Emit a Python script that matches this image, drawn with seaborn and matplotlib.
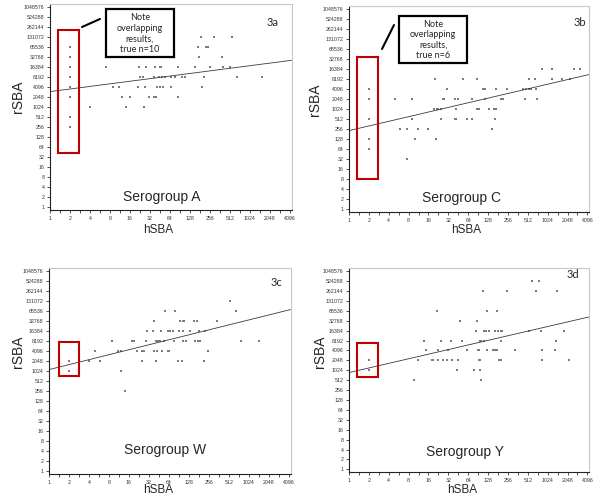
import numpy as np
import pandas as pd
import seaborn as sns
import matplotlib.pyplot as plt
from matplotlib.ticker import FixedLocator, FuncFormatter, NullFormatter
from matplotlib.patches import Rectangle
from matplotlib.lines import Line2D

# --- data (hSBA vs rSBA titres) ---
hsba_a = [2, 2, 2, 2, 2, 2, 2, 2, 4, 7, 9, 11, 12, 14, 16, 21, 22, 22.6, 24.8, 26.3,
          26.9, 27.9, 31, 37, 39, 38, 37, 41.5, 43.7, 45, 47, 46, 50, 48.5, 53.8,
          67, 65.5, 76, 83.6, 85.4, 84, 96, 108, 152, 167, 177, 187, 192, 208,
          220, 242, 256, 297, 392, 406, 506, 555, 645, 1534]
rsba_a = [65536, 32768, 16384, 8192, 4096, 2048, 512, 256, 1024, 16384, 4096, 4096,
          2048, 1024, 2048, 4096, 16384, 8192, 8192, 1024,
          4096, 16384, 2048, 2048, 2048, 16384, 8192, 4096, 8192, 16384, 16384, 4096, 4096, 8192, 8192,
          4096, 8192, 8192, 2048, 2048, 16384, 8192, 8192, 16384, 65536, 32768, 131072, 4096, 8192,
          65536, 65536, 16384, 131072, 32768, 16384, 16384, 131072, 8192, 8192]

hsba_c = [2, 2, 2, 2, 2, 5, 6, 7.5, 7.5, 9, 9, 10, 11, 16, 20, 20.5, 19.5, 21.4, 22.6,
          24.5, 24.5, 26.9, 27.9, 30.2, 40.3, 44.7, 41.5, 40.3, 42.2, 53.8, 60.4, 71.8,
          71.8, 87, 87, 93, 107.6, 114, 114, 134, 147, 156, 167, 161, 169, 201, 215, 249,
          431, 478, 466, 536, 574, 536, 660, 683, 699, 832, 1176, 1176, 1702, 2220, 2580, 3213]
rsba_c = [4096, 2048, 512, 128, 64, 2048, 256, 256, 32, 2048, 512, 128, 256, 256, 8192, 128,
          1024, 1024, 1024, 1024, 512, 2048, 2048, 4096, 2048, 2048, 1024, 512, 512, 8192, 512,
          2048, 512, 8192, 1024, 1024, 4096, 4096, 2048, 1024, 256, 1024, 1024, 512, 4096, 2048,
          2048, 4096, 4096, 4096, 2048, 4096, 4096, 8192, 8192, 4096, 2048, 16384, 16384, 8192,
          8192, 8192, 16384, 16384]

hsba_w = [2, 2, 4, 4.9, 5.9, 8.9, 10.9, 12.1, 12.1, 13.8, 17.7, 19, 21.4, 25.4, 25.4, 27.2,
          28.8, 29.9, 36.8, 38.5, 38.5, 42.2, 40.7, 43.1, 46.2, 41.3, 49, 50, 53.2, 55, 61,
          64.7, 61, 67, 73.5, 76, 79.7, 86.5, 89.5, 94.7, 102.8, 108.8, 100.4, 104, 104, 116.7,
          131, 153.6, 167, 159.5, 173, 189, 179, 217.6, 225.7, 244, 338, 536, 660, 776, 1432]
rsba_w = [2048, 1024, 2048, 4096, 2048, 8192, 4096, 4096, 1024, 256, 8192, 8192, 4096, 2048,
          4096, 4096, 8192, 16384, 16384, 32768, 4096, 4096, 8192, 8192, 8192, 2048, 16384,
          4096, 8192, 65536, 4096, 4096, 16384, 16384, 16384, 8192, 65536, 2048, 16384, 32768,
          32768, 32768, 2048, 8192, 16384, 8192, 16384, 32768, 32768, 8192, 8192, 8192, 16384,
          2048, 16384, 4096, 32768, 131072, 65536, 8192, 8192]

hsba_y = [2, 2, 9.7, 11, 13.8, 14.8, 18, 18.8, 21.4, 22.6, 22.6, 24.5, 26.9, 30.9, 31.6, 34.7,
          35.9, 42.7, 44.7, 47.9, 50.8, 60.4, 77.9, 84.4, 87.1, 89.5, 94.7, 93, 98, 98, 101.6,
          98, 101.6, 106, 112.7, 120.8, 134, 112.7, 125.4, 123.6, 152, 161, 177, 161, 181, 173,
          187, 199, 199, 208, 203, 252, 322.5, 536, 601.6, 683.5, 757.8, 812.7, 832, 832, 1320,
          1367, 1432, 1802, 2169]
rsba_y = [2048, 1024, 512, 2048, 8192, 4096, 2048, 2048, 65536, 2048, 4096, 8192, 2048, 2048,
          4096, 8192, 2048, 1024, 2048, 32768, 8192, 4096, 1024, 16384, 32768, 4096, 4096, 2048,
          2048, 8192, 8192, 1024, 512, 262144, 16384, 16384, 16384, 8192, 65536, 4096, 4096,
          4096, 4096, 16384, 16384, 65536, 2048, 2048, 16384, 16384, 8192, 262144, 4096, 16384,
          524288, 262144, 524288, 16384, 4096, 2048, 4096, 8192, 262144, 16384, 2048]

# fitted lines: log2(rSBA) = intercept + slope * log2(hSBA)
fit_intercept = {"A": 11.57, "C": 7.87, "W": 10.17, "Y": 9.77}
fit_slope = {"A": 0.259, "C": 0.464, "W": 0.497, "Y": 0.465}

groups = ["A", "C", "W", "Y"]
tags = ["3a", "3b", "3c", "3d"]
data = {"A": (hsba_a, rsba_a), "C": (hsba_c, rsba_c), "W": (hsba_w, rsba_w), "Y": (hsba_y, rsba_y)}
notes = {"A": "Note\noverlapping\nresults,\ntrue n=10", "C": "Note\noverlapping\nresults,\ntrue n=6"}

# --- layout (pixels on the 600x503 canvas) ---
W, H = 600, 503
axes_px = {"A": (50, 4, 291.5, 210), "C": (349, 6, 589, 212),
           "W": (49, 268, 290.5, 474), "Y": (349, 268, 589, 472)}
# red boxes in log2 units (x0, x1, y0, y1)
red_box = {"A": (0.42, 1.45, 5.47, 17.7), "C": (0.40, 1.47, 3.0, 15.2),
           "W": (0.48, 1.52, 9.5, 12.9), "Y": (0.40, 1.47, 9.33, 12.77)}
tag_px = {"A": (273, 23), "C": (580, 23), "W": (276, 282), "Y": (573, 275)}
title_px = {"A": (162, 197), "C": (461, 198), "W": (165, 450), "Y": (465, 452)}
ylab_px = {"A": (18, 97), "C": (315, 100), "W": (18, 352), "Y": (320, 352)}
xlab_px = {"A": (158, 230), "C": (466, 230), "W": (158, 490), "Y": (462, 490)}
note_box_px = {"A": (106, 9, 174, 57), "C": (399, 16, 467, 63)}
note_line_px = {"A": ((82, 27), (100, 19)), "C": ((382, 49), (394, 25))}

sns.set_theme(style="white")
plt.rcParams['font.family'] = ['Liberation Sans', 'DejaVu Sans']

fig = plt.figure(figsize=(6.0, 5.03), dpi=100)


def fx(x):
    return x / W


def fy(y):
    return 1 - y / H


def int_fmt(v, pos):
    return "%d" % int(round(v))


for g, tag in zip(groups, tags):
    l, t, r, b = axes_px[g]
    ax = fig.add_axes([fx(l), fy(b), (r - l) / W, (b - t) / H])
    hs, rs = data[g]
    df = pd.DataFrame({"hSBA": hs, "rSBA": rs})
    ax.set_xscale("log", base=2)
    ax.set_yscale("log", base=2)
    sns.scatterplot(data=df, x="hSBA", y="rSBA", ax=ax, marker="s", s=3,
                    color="#7c7c7c", linewidth=0, legend=False)

    xs = np.array([1.0, 2 ** 12.08])
    ys = 2 ** (fit_intercept[g] + fit_slope[g] * np.log2(xs))
    ax.plot(xs, ys, color="#3a3a3a", lw=0.6)

    ax.set_xlim(1, 2 ** 12.08)
    ax.set_ylim(2 ** -0.27, 2 ** 20.33)

    ax.xaxis.set_major_locator(FixedLocator(2.0 ** np.arange(13)))
    ax.xaxis.set_minor_locator(FixedLocator(2.0 ** (np.arange(12) + 0.5)))
    ax.yaxis.set_major_locator(FixedLocator(2.0 ** np.arange(21)))
    ax.yaxis.set_minor_locator(FixedLocator([]))
    ax.xaxis.set_major_formatter(FuncFormatter(int_fmt))
    ax.yaxis.set_major_formatter(FuncFormatter(int_fmt))
    ax.xaxis.set_minor_formatter(NullFormatter())
    ax.tick_params(which="both", bottom=True, left=True, direction="out",
                   labelsize=3.8, labelcolor="#333333", color="#333333", width=0.6, pad=1.5)
    ax.tick_params(which="major", length=2.5)
    ax.tick_params(which="minor", length=2)
    ax.set_xlabel("")
    ax.set_ylabel("")
    for side in ["left", "bottom"]:
        ax.spines[side].set_color("#222222")
        ax.spines[side].set_linewidth(0.8)
    for side in ["top", "right"]:
        ax.spines[side].set_color("#c8c8c8")
        ax.spines[side].set_linewidth(0.8)
    ax.set_facecolor("white")

    x0, x1, y0, y1 = red_box[g]
    ax.add_patch(Rectangle((2 ** x0, 2 ** y0), 2 ** x1 - 2 ** x0, 2 ** y1 - 2 ** y0,
                           fill=False, ec="#c00000", lw=1.5, zorder=5))

    fig.text(fx(tag_px[g][0]), fy(tag_px[g][1]), tag, ha="center", va="center",
             fontsize=8, family=["Lato", "DejaVu Sans"])
    fig.text(fx(title_px[g][0]), fy(title_px[g][1]), "Serogroup " + g,
             ha="center", va="center", fontsize=10)
    fig.text(fx(ylab_px[g][0]), fy(ylab_px[g][1]), "rSBA", rotation=90,
             ha="center", va="center", fontsize=10)
    fig.text(fx(xlab_px[g][0]), fy(xlab_px[g][1]), "hSBA",
             ha="center", va="center", fontsize=8.5)

    if g in notes:
        bl, bt, br, bb = note_box_px[g]
        fig.add_artist(Rectangle((fx(bl), fy(bb)), (br - bl) / W, (bb - bt) / H,
                                 transform=fig.transFigure, fill=True, fc="white",
                                 ec="black", lw=1.6))
        fig.text(fx((bl + br) / 2), fy((bt + bb) / 2 + 0.5), notes[g], ha="center", va="center",
                 fontsize=6.5, linespacing=1.2, family=["Lato", "DejaVu Sans"])
        (ax_, ay_), (bx_, by_) = note_line_px[g]
        fig.add_artist(Line2D([fx(ax_), fx(bx_)], [fy(ay_), fy(by_)],
                              transform=fig.transFigure, color="black", lw=1.5))

fig.savefig("out.png", dpi=100)
